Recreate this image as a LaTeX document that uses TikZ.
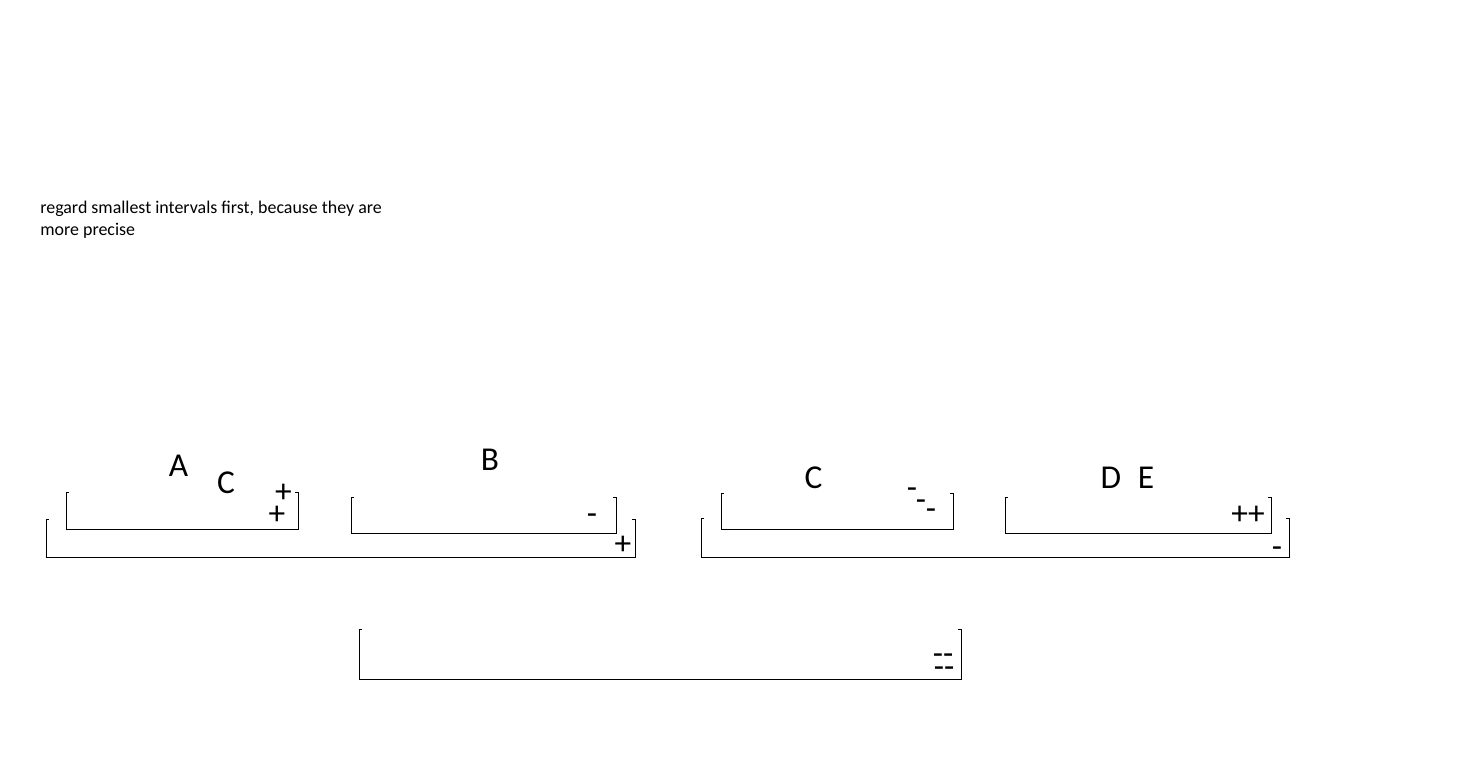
\documentclass[tikz,border=0pt]{standalone}
\usepackage{fontspec}
\setmainfont{Carlito}
\usepackage{tikz}
% open interval bracket: left x, top y, bottom y, right x
\def\ivbox[#1](#2:#3:#4:#5){\draw[#1] ({#2+3},#3) -- (#2,#3) -- (#2,#4) -- (#5,#4) -- (#5,#3) -- ({#5-3},#3);}

\begin{document}
\begin{tikzpicture}[x=0.02cm, y=-0.02cm,
	lbl/.style={font=\fontsize{19}{23}\selectfont, inner sep=0pt},
	note/.style={font=\fontsize{10.2}{12.5}\selectfont, inner sep=0pt, align=left, anchor=base west}]
			%%%%% START %%%%%
			
			\path[fill=white] (0, 0) rectangle (1470, 778);
			\useasboundingbox (0, 0) rectangle (1470, 778);
			
			\node[note] (hint) at (40, 235) {regard smallest intervals first, because they are\\more precise};
			
			% left group
			\ivbox[line width=0.45pt](66:492:529:298)
			\ivbox[line width=0.45pt](351:497:533:616)
			\ivbox[line width=0.45pt](46:519:557:635)
			
			\node[lbl] (labA) at (178.5, 466) {A};
			\node[lbl] (labC1) at (226, 483) {C};
			\node[lbl] (plusA) at (283.5, 493) {+};
			\node[lbl] (plusAb) at (277, 515) {+};
			\node[lbl] (labB) at (490, 460) {B};
			\node[lbl] (minusB) at (592, 519) {-};
			\node[lbl] (plusL) at (623, 545) {+};
			
			% right group
			\ivbox[line width=0.45pt](721:493:529:953)
			\ivbox[line width=0.45pt](1005:497:533:1271)
			\ivbox[line width=0.45pt](701:518:557:1289)
			
			\node[lbl] (labC2) at (813.5, 478) {C};
			\node[lbl] (minusC1) at (912, 493) {-};
			\node[lbl] (minusC2) at (921, 505) {-};
			\node[lbl] (minusC3) at (931, 514) {-};
			\node[lbl] (labD) at (1111, 478) {D};
			\node[lbl] (labE) at (1146, 478) {E};
			\node[lbl] (plusDE) at (1248, 515) {++};
			\node[lbl] (minusR) at (1277, 552) {-};
			
			% bottom
			\ivbox[line width=0.45pt](359:629:679:961)
			
			\node[lbl] (minusBot1) at (943, 659) {-{}-};
			\node[lbl] (minusBot2) at (944, 672) {-{}-};
			
			%%%%% END %%%%%
		\end{tikzpicture}
\end{document}
